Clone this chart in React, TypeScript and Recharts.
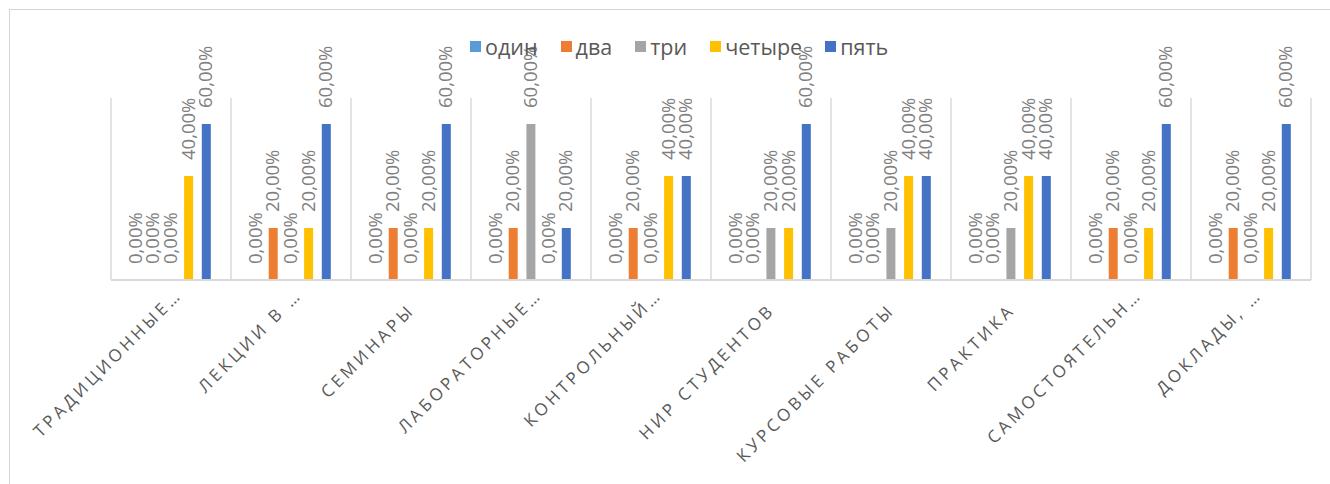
import React from 'react';
import { BarChart, Bar, XAxis, YAxis, CartesianGrid, Legend, LabelList } from 'recharts';

// categories as they appear on the axis (Excel truncated the long ones)
const categories = [
    'ТРАДИЦИОННЫЕ…',
    'ЛЕКЦИИ В …',
    'СЕМИНАРЫ',
    'ЛАБОРАТОРНЫЕ…',
    'КОНТРОЛЬНЫЙ…',
    'НИР СТУДЕНТОВ',
    'КУРСОВЫЕ РАБОТЫ',
    'ПРАКТИКА',
    'САМОСТОЯТЕЛЬН…',
    'ДОКЛАДЫ, …',
];

const odin = [0, 0, 0, 0, 0, 0, 0, 0, 0, 0];
const dva = [0, 0.2, 0.2, 0.2, 0.2, 0, 0, 0, 0.2, 0.2];
const tri = [0, 0, 0, 0.6, 0, 0.2, 0.2, 0.2, 0, 0];
const chetyre = [0.4, 0.2, 0.2, 0, 0.4, 0.2, 0.4, 0.4, 0.2, 0.2];
const pyat = [0.6, 0.6, 0.6, 0.2, 0.4, 0.6, 0.4, 0.4, 0.6, 0.6];

const seriesNames = ['один', 'два', 'три', 'четыре', 'пять'];
const seriesColors = ['#5B9BD5', '#ED7D31', '#A5A5A5', '#FFC000', '#4472C4'];
const seriesValues = [odin, dva, tri, chetyre, pyat];

const yDomain = [0, 0.7];

const chartData = categories.map((name, i) => {
    const row: { name: string; [key: string]: string | number } = { name };
    seriesNames.forEach((s, k) => {
        row[s] = seriesValues[k][i];
    });
    return row;
});

const FONT = '"Open Sans", sans-serif';

const fmtPct = (v: number) => (v * 100).toFixed(2).replace('.', ',') + '%';

const ValueLabel = (props: any) => {
    const { x, y, width, value } = props;
    // top of the bar; zero bars only get a hair-thin height so they still have a label
    const top = Math.round(Number(y));
    const lx = Number(x) + Number(width) / 2 + 6;
    const ly = top - 16;
    return (
        <text x={lx} y={ly} transform={`rotate(-90 ${lx} ${ly})`} fontSize={18.5} fill="#808080" fontFamily={FONT}>
            {fmtPct(Number(value))}
        </text>
    );
};

const CategoryTick = (props: any) => {
    const { x, y, payload } = props;
    const cut = String(payload.value).endsWith('…');
    const ax = x + (cut ? 12 : 5);
    const ay = y + (cut ? 16 : 31);
    return (
        <text x={ax} y={ay} transform={`rotate(-45 ${ax} ${ay})`} textAnchor="end" fontSize={17}
            letterSpacing={3.5} fill="#595959" fontFamily={FONT}>
            {payload.value}
        </text>
    );
};

const LegendContent = ({ payload }: any) => {
    const items = [...(payload || [])].sort((a: any, b: any) => seriesNames.indexOf(a.value) - seriesNames.indexOf(b.value));
    return (
        <div style={{ display: 'flex', alignItems: 'center', fontFamily: FONT, fontSize: 21.5, color: '#595959', lineHeight: '33px', whiteSpace: 'nowrap' }}>
            {items.map((entry: any) => (
                <span key={entry.value} style={{ display: 'flex', alignItems: 'center', marginRight: 23 }}>
                    <span style={{ width: 11, height: 11, background: entry.color, marginRight: 4 }} />
                    {entry.value}
                </span>
            ))}
        </div>
    );
};

const gridX = ({ offset }: any) => {
    const n = categories.length;
    const xs = categories.map((_, i) => offset.left + (i * offset.width) / n);
    return [...xs, offset.left + offset.width];
};

export default function App() {
    return (
        <div style={{ position: 'absolute', left: 0, top: 0, width: 1330, height: 484, overflow: 'hidden', background: '#fff' }}>
            <div style={{ position: 'absolute', left: 9, top: 9, width: 1400, height: 500, borderTop: '1px solid #d4d4d4', borderLeft: '1px solid #d4d4d4' }} />
            <div style={{ position: 'absolute', left: 0, top: 0 }}>
                <BarChart width={1330} height={484} data={chartData} margin={{ top: 98, right: 19, bottom: 0, left: 111 }}
                    barGap={8.7}>
                    <CartesianGrid horizontal={false} stroke="#d9d9d9" strokeWidth={1.5} verticalCoordinatesGenerator={gridX} />
                    <XAxis dataKey="name" height={204} interval={0} tickLine={false} tickSize={0} tickMargin={0}
                        axisLine={{ stroke: '#d9d9d9', strokeWidth: 2 }} tick={<CategoryTick />} />
                    <YAxis hide domain={yDomain} />
                    <Legend verticalAlign="middle" align="center" content={<LegendContent />}
                        wrapperStyle={{ top: 30, left: 470, width: 'auto', height: 33 }} />
                    {seriesNames.map((s, k) => (
                        <Bar key={s} dataKey={s} fill={seriesColors[k]} barSize={9} minPointSize={0.01} isAnimationActive={false}>
                            <LabelList dataKey={s} content={<ValueLabel />} />
                        </Bar>
                    ))}
                </BarChart>
            </div>
        </div>
    );
}
